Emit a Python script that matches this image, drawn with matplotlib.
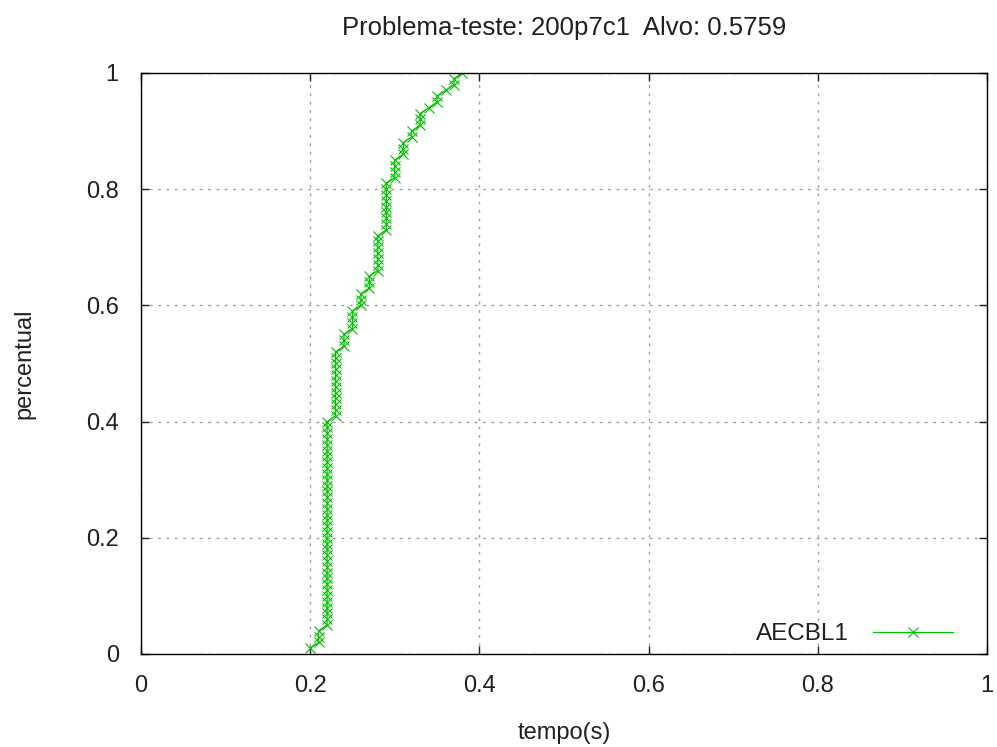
import numpy as np
import matplotlib
matplotlib.use("Agg")
import matplotlib.pyplot as plt

# tempos observados (s) e numero de execucoes que atingiram o alvo em cada tempo
tempos = [0.20, 0.21, 0.22, 0.23, 0.24, 0.25, 0.26, 0.27, 0.28, 0.29,
          0.30, 0.31, 0.32, 0.33, 0.34, 0.35, 0.36, 0.37, 0.38]
contagens = [1, 3, 36, 12, 3, 4, 3, 3, 7, 9,
             4, 3, 2, 3, 1, 2, 1, 2, 1]
ticks = [0, 0.2, 0.4, 0.6, 0.8, 1]
tick_labels = ["0", "0.2", "0.4", "0.6", "0.8", "1"]

x = np.repeat(tempos, contagens)
y = np.arange(1, len(x) + 1) / len(x)

plt.rcParams.update({"font.family": "Liberation Sans", "font.size": 17})
fig = plt.figure(figsize=(9.97, 7.47), dpi=100)
ax = fig.add_axes([0.1414, 0.1245, 0.8486, 0.7778])

ax.plot(x, y, color="#00c000", lw=0.9, marker="x", ms=6.8, mew=0.8,
        label="AECBL1")

ax.set_xlim(0, 1); ax.set_ylim(0, 1)
ax.set_xticks(ticks); ax.set_yticks(ticks)
ax.set_xticklabels(tick_labels); ax.set_yticklabels(tick_labels)
ax.tick_params(axis="both", direction="in", length=6, width=1, top=True,
               right=True, labelsize=17, colors="#202020")
ax.tick_params(axis="y", pad=16)
ax.tick_params(axis="x", pad=15)
ax.grid(True, color="#a0a0a0", ls=(0, (2, 4)), lw=1)
for s in ax.spines.values():
    s.set_linewidth(1)

ax.set_xlabel("tempo(s)", fontsize=17, labelpad=18, color="#202020")
ax.set_ylabel("percentual", fontsize=17, labelpad=36, color="#202020")
ax.set_title("Problema-teste: 200p7c1  Alvo: 0.5759", fontsize=18.5, pad=27,
             color="#202020")

leg = ax.legend(loc="center right", bbox_to_anchor=(0.974, 0.034),
                frameon=False, markerfirst=False, handlelength=3.3,
                handletextpad=1.0, borderpad=0, fontsize=17.5)
for t in leg.get_texts():
    t.set_color("#202020")

fig.savefig("out.png", dpi=100)
